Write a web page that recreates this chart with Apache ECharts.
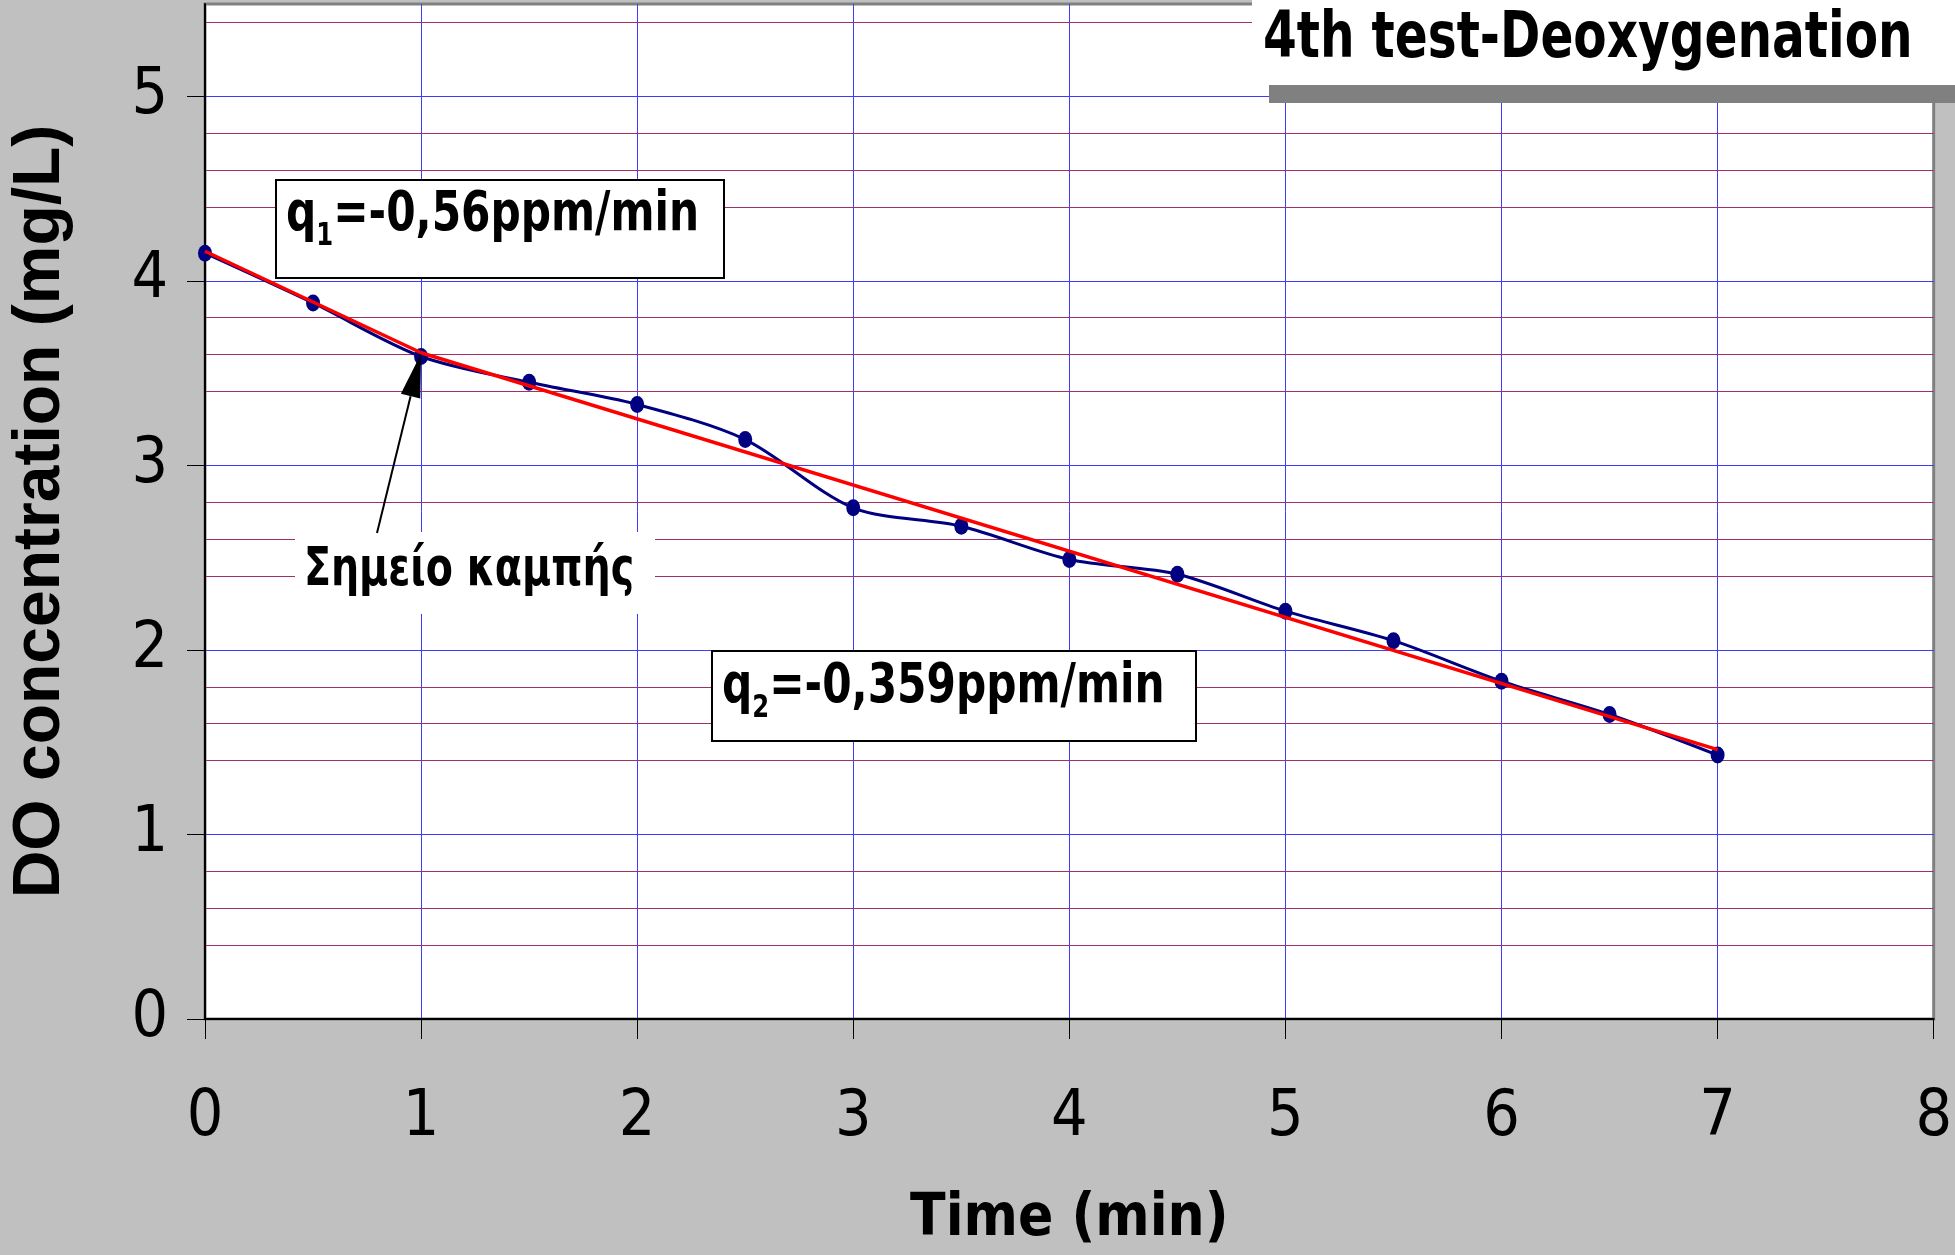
<!DOCTYPE html>
<html>
<head>
<meta charset="utf-8">
<script src="https://cdn.jsdelivr.net/npm/echarts@6/dist/echarts.min.js"></script>
<style>
html,body{margin:0;padding:0;background:#c0c0c0;}
#chart{width:1955px;height:1255px;}
</style>
</head>
<body>
<div id="chart"></div>
<script>
// ---- data ----
const timeMin = [0, 0.5, 1, 1.5, 2, 2.5, 3, 3.5, 4, 4.5, 5, 5.5, 6, 6.5, 7];
const doConc  = [4.15, 3.88, 3.59, 3.45, 3.33, 3.14, 2.77, 2.67, 2.49, 2.41, 2.21, 2.05, 1.83, 1.65, 1.43];
const trendTime = [0, 1, 7];
const trendDO   = [4.16, 3.61, 1.46];
const xTickValues = [0, 1, 2, 3, 4, 5, 6, 7, 8];
const yTickValues = [0, 1, 2, 3, 4, 5];
const titleText = '4th test-Deoxygenation';
const xName = 'Time (min)';
const yName = 'DO concentration (mg/L)';
const q1Text = ['q', '1', '=-0,56ppm/min'];
const q2Text = ['q', '2', '=-0,359ppm/min'];
const inflectionText = 'Σημείο καμπής';
const inflectionIndex = 2;

const COND = "'DejaVu Sans Condensed', 'DejaVu Sans', sans-serif";
const WIDE = "'Liberation Sans', Arial, sans-serif";
const MAJOR = '#3c3cff';
const MINOR = '#a0306a';
const NONE = 'rgba(0,0,0,0)';

const chart = echarts.init(document.getElementById('chart'), null, {renderer: 'canvas'});

function richLabel(parts) {
  return '{m|' + parts[0] + '}{s|' + parts[1] + '}{m|' + parts[2] + '}';
}
const richStyles = {
  m: {fontSize: 47, fontFamily: COND, fontWeight: 'bold', lineHeight: 49, verticalAlign: 'top', fill: '#000'},
  s: {fontSize: 27, fontFamily: COND, fontWeight: 'bold', lineHeight: 27, verticalAlign: 'top', padding: [28, 0, 0, 0], fill: '#000'}
};

const option = {
  animation: false,
  backgroundColor: '#c0c0c0',
  grid: {
    left: 205, top: 4, width: 1730, height: 1015,
    show: true, backgroundColor: '#ffffff', borderColor: '#808080', borderWidth: 3
  },
  xAxis: {
    type: 'value', min: 0, max: 8, interval: 1,
    name: xName, nameLocation: 'middle', nameGap: 172,
    nameTextStyle: {fontFamily: COND, fontWeight: 'bold', fontSize: 58, color: '#000'},
    axisLine: {show: true, lineStyle: {color: '#000', width: 2}},
    axisTick: {show: true, length: 20, inside: false, lineStyle: {color: '#000', width: 1}},
    axisLabel: {fontFamily: COND, fontSize: 64, color: '#000', margin: 67,
      customValues: xTickValues},
    splitLine: {show: true, showMaxLine: false, lineStyle: {color: MAJOR, width: 1}}
  },
  yAxis: [
    {
      type: 'value', min: 0, max: 5.5, interval: 1, z: 3,
      name: yName, nameLocation: 'middle', nameGap: 131, nameRotate: 90,
      nameTextStyle: {fontFamily: WIDE, fontWeight: 'bold', fontSize: 66, color: '#000'},
      axisLine: {show: true, onZero: false, lineStyle: {color: '#000', width: 2}},
      axisTick: {show: true, length: 18, inside: false, lineStyle: {color: '#000', width: 1},
        customValues: yTickValues},
      axisLabel: {fontFamily: COND, fontSize: 64, color: '#000', margin: 37,
        customValues: yTickValues},
      splitLine: {show: true, showMinLine: false, showMaxLine: true, lineStyle: {color: MAJOR, width: 1}}
    },
    {
      // minor grid (every 0.2) drawn by a hidden companion axis
      type: 'value', min: 0, max: 5.5, interval: 0.2, position: 'left', z: 1,
      axisLine: {show: false}, axisTick: {show: false}, axisLabel: {show: false},
      splitLine: {show: true, showMinLine: false, showMaxLine: false,
        lineStyle: {color: [NONE, MINOR, MINOR, MINOR, MINOR], width: 1}}
    }
  ],
  series: [
    {
      name: 'DO', type: 'line', smooth: 0.3, yAxisIndex: 0,
      data: timeMin.map((t, i) => [t, doConc[i]]),
      symbol: 'circle', symbolSize: [14, 17],
      itemStyle: {color: '#000080'},
      lineStyle: {color: '#000080', width: 3},
      z: 3
    },
    {
      name: 'trend', type: 'line', smooth: false, yAxisIndex: 0,
      data: trendTime.map((t, i) => [t, trendDO[i]]),
      symbol: 'none',
      lineStyle: {color: '#ff0000', width: 3.5},
      z: 4
    }
  ]
};
chart.setOption(option);

// annotations
const tip = chart.convertToPixel({xAxisIndex: 0, yAxisIndex: 0}, [timeMin[inflectionIndex], doConc[inflectionIndex]]);
const tail = [377, 533];
const tipY = tip[1] - 3;
const dx = tip[0] - tail[0], dy = tipY - tail[1];
const len = Math.sqrt(dx * dx + dy * dy);
const ux = dx / len, uy = dy / len;
const headLen = 44, headHalf = 10;
const baseX = tip[0] - ux * headLen, baseY = tipY - uy * headLen;
const px = -uy, py = ux;

chart.setOption({
  graphic: [
    // title box with shadow
    {type: 'rect', z: 100, shape: {x: 1269, y: -20, width: 720, height: 123}, style: {fill: '#808080'}},
    {type: 'rect', z: 101, shape: {x: 1252, y: -20, width: 720, height: 105}, style: {fill: '#ffffff'}},
    {type: 'text', z: 102, x: 1263, y: 40, scaleY: 1.19,
      style: {text: titleText, fontFamily: COND, fontWeight: 'bold', fontSize: 54, fill: '#000',
        align: 'left', verticalAlign: 'middle'}},
    // q1 box
    {type: 'rect', z: 100, shape: {x: 276, y: 180, width: 448, height: 98},
      style: {fill: '#ffffff', stroke: '#000', lineWidth: 2}},
    {type: 'text', z: 101, x: 286, y: 188, scaleY: 1.18,
      style: {text: richLabel(q1Text), rich: richStyles, align: 'left', verticalAlign: 'top'}},
    // q2 box
    {type: 'rect', z: 100, shape: {x: 712, y: 651, width: 484, height: 90},
      style: {fill: '#ffffff', stroke: '#000', lineWidth: 2}},
    {type: 'text', z: 101, x: 722, y: 660, scaleY: 1.18,
      style: {text: richLabel(q2Text), rich: richStyles, align: 'left', verticalAlign: 'top'}},
    // inflection label
    {type: 'rect', z: 100, shape: {x: 295, y: 532, width: 360, height: 82}, style: {fill: '#ffffff'}},
    {type: 'text', z: 101, x: 469, y: 571, scaleY: 1.2,
      style: {text: inflectionText, fontFamily: COND, fontWeight: 'bold', fontSize: 44, fill: '#000',
        align: 'center', verticalAlign: 'middle'}},
    // arrow
    {type: 'line', z: 102, shape: {x1: tail[0], y1: tail[1], x2: baseX, y2: baseY},
      style: {stroke: '#000', lineWidth: 2}},
    {type: 'polygon', z: 102, shape: {points: [[tip[0], tipY],
        [baseX + px * headHalf, baseY + py * headHalf], [baseX - px * headHalf, baseY - py * headHalf]]},
      style: {fill: '#000'}}
  ]
});
</script>
</body>
</html>
